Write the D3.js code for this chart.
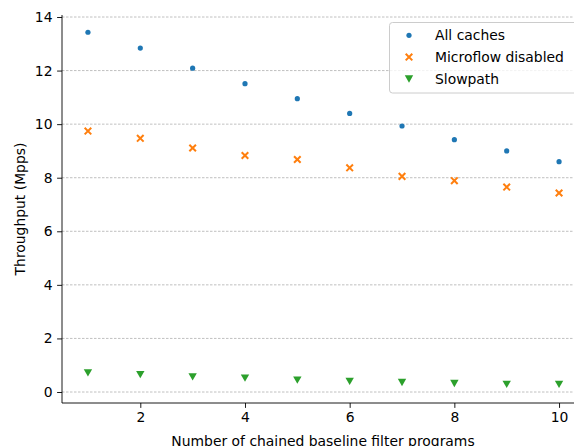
<!DOCTYPE html>
<html><head><meta charset="utf-8">
<script src="https://cdn.jsdelivr.net/npm/d3@7"></script>
<style>body{margin:0;background:#fff}svg{display:block;font-family:"DejaVu Sans",sans-serif}</style>
</head><body>
<script>
const xs = [1,2,3,4,5,6,7,8,9,10];
const allCaches = [13.43,12.84,12.09,11.51,10.95,10.40,9.93,9.42,9.00,8.60];
const microflowDisabled = [9.74,9.47,9.11,8.83,8.68,8.37,8.05,7.89,7.65,7.43];
const slowpath = [0.72,0.65,0.57,0.52,0.45,0.40,0.36,0.32,0.29,0.29];
const yTicks = [0,2,4,6,8,10,12,14];
const xTicks = [2,4,6,8,10];
const seriesNames = ["All caches","Microflow disabled","Slowpath"];
const colors = ["#1f77b4","#ff7f0e","#2ca02c"];

(function(){
const W=574,H=446,FS=13.9;
const svg=d3.select("body").append("svg").attr("width",W).attr("height",H);
const x=d3.scaleLinear().domain([0.55,10.45]).range([64.4,582.6]);
const y=d3.scaleLinear().domain([0,14]).range([392,17]);
const pLeft=62, pBottom=403, pTop=15;

svg.append("g").selectAll("line").data(yTicks).join("line")
  .attr("x1",pLeft).attr("x2",W).attr("y1",d=>y(d)).attr("y2",d=>y(d))
  .attr("stroke","#b0b0b0").attr("stroke-width",0.8).attr("stroke-dasharray","2.5,1.5");

const ya=svg.append("g").attr("transform",`translate(${pLeft},0)`)
  .call(d3.axisLeft(y).tickValues(yTicks).tickSize(4.9).tickPadding(4.6));
const xa=svg.append("g").attr("transform",`translate(0,${pBottom})`)
  .call(d3.axisBottom(x).tickValues(xTicks).tickSize(4.9).tickPadding(4.2));
ya.select(".domain").attr("d",`M0,${pTop}V${pBottom}`);
xa.select(".domain").attr("d",`M${pLeft},0H${W}`);
[ya,xa].forEach(a=>{a.selectAll("text").attr("font-size",FS).attr("fill","#000").attr("font-family","DejaVu Sans");
  a.selectAll("line,path").attr("stroke","#000").attr("stroke-width",0.9);});

svg.append("text").attr("transform",`translate(24.5,${(pTop+pBottom)/2}) rotate(-90)`)
  .attr("text-anchor","middle").attr("font-size",FS).text("Throughput (Mpps)");
svg.append("text").attr("x",323).attr("y",445.5).attr("text-anchor","middle")
  .attr("font-size",FS).text("Number of chained baseline filter programs");

const xMark=s=>`M${-s},${-s}L${s},${s}M${-s},${s}L${s},${-s}`;
const tri=s=>`M${-s},${-s*0.85}L${s},${-s*0.85}L0,${s*0.9}Z`;
function drawMarker(g,i){
  if(i===0) g.append("circle").attr("r",2.6).attr("fill",colors[0]);
  else if(i===1) g.append("path").attr("d",xMark(3.3)).attr("stroke",colors[1]).attr("stroke-width",2).attr("fill","none");
  else g.append("path").attr("d",tri(4.2)).attr("fill",colors[2]);
}
[allCaches,microflowDisabled,slowpath].forEach((vals,i)=>{
  xs.forEach((xv,j)=>{
    const g=svg.append("g").attr("transform",`translate(${x(xv)},${y(vals[j])})`);
    drawMarker(g,i);
  });
});

const lg=svg.append("g");
lg.append("rect").attr("x",389.5).attr("y",22.5).attr("width",200).attr("height",70.5).attr("rx",3)
  .attr("fill","#fff").attr("fill-opacity",0.8).attr("stroke","#ccc").attr("stroke-width",1);
seriesNames.forEach((n,i)=>{
  const yy=35.3+i*21.8;
  const g=lg.append("g").attr("transform",`translate(409,${yy})`);
  drawMarker(g,i);
  lg.append("text").attr("x",435).attr("y",yy+4.6).attr("font-size",FS).text(n);
});
})();
</script>
</body></html>
